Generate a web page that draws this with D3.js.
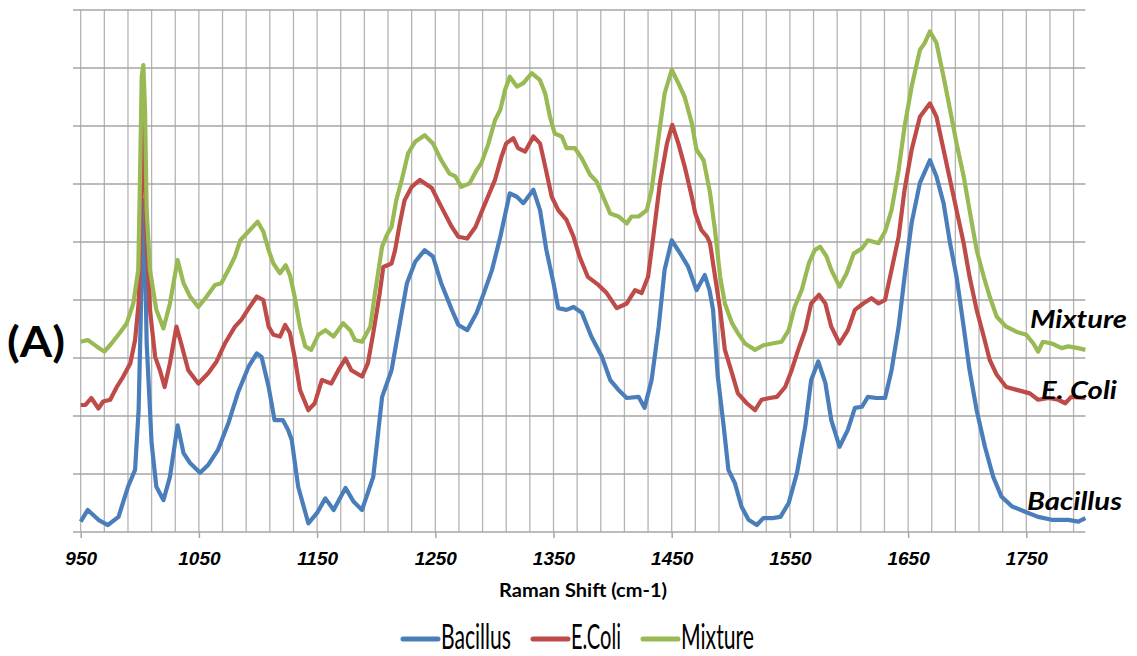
<!DOCTYPE html>
<html>
<head>
<meta charset="utf-8">
<script src="https://cdn.jsdelivr.net/npm/d3@7"></script>
<style>
  body { margin: 0; background: #fff; }
  svg { display: block; font-family: Lato, "Open Sans", sans-serif; }
</style>
</head>
<body>
<script>
// Raman spectra (x = Raman shift cm-1, y = intensity in gridline units)
const bacillus = [
  [950,0.18],[956,0.38],[965,0.21],[973,0.12],[982,0.26],[990,0.78],[996,1.07],[999,2.1],
  [1001.6,4.4],[1003,5.72],[1004.4,4.86],[1005.8,3.26],[1010,1.53],[1014,0.78],[1020,0.55],
  [1025.5,0.95],[1032,1.84],[1037,1.36],[1042.5,1.19],[1051,1.02],[1058,1.16],[1066,1.41],
  [1075,1.88],[1083,2.4],[1092,2.85],[1099,3.08],[1103,3.02],[1109,2.5],[1114,1.93],[1121,1.93],
  [1125.5,1.76],[1128.5,1.59],[1134,0.78],[1142.6,0.15],[1150,0.33],[1157,0.58],[1164,0.38],
  [1174,0.76],[1181,0.52],[1188,0.38],[1197.5,0.95],[1205,2.33],[1213,2.79],[1220,3.6],
  [1226,4.29],[1233,4.66],[1241,4.86],[1248,4.75],[1255,4.29],[1264,3.83],[1269.5,3.57],
  [1277,3.48],[1285,3.78],[1292,4.17],[1298,4.52],[1305,5.09],[1313,5.84],[1319,5.78],
  [1324.5,5.67],[1333,5.9],[1338.6,5.55],[1344,4.86],[1350,4.29],[1354,3.86],[1361,3.83],
  [1367,3.88],[1374,3.78],[1382,3.37],[1391,3.02],[1398,2.62],[1405,2.45],[1412,2.31],
  [1422,2.33],[1427,2.14],[1433,2.62],[1439,3.54],[1444,4.52],[1450,5.03],[1457,4.81],
  [1464,4.57],[1471,4.17],[1478,4.43],[1482,4.17],[1485,3.83],[1489,2.68],[1494,1.82],
  [1498,1.07],[1503.5,0.84],[1509,0.44],[1515,0.21],[1522,0.12],[1527.5,0.24],[1535,0.24],
  [1542,0.26],[1549,0.5],[1556,1.02],[1563,1.82],[1568,2.62],[1574,2.94],[1580,2.57],
  [1585,1.93],[1592,1.47],[1599,1.76],[1605,2.14],[1611,2.16],[1616,2.33],[1623,2.31],
  [1630.5,2.31],[1636,2.79],[1642,3.54],[1647,4.4],[1653,5.33],[1660,6.02],[1668.5,6.41],
  [1674,6.13],[1680,5.67],[1685.5,4.98],[1691,4.4],[1697,3.54],[1702,2.79],[1708,2.1],
  [1715,1.47],[1722,0.95],[1729,0.61],[1738,0.44],[1749,0.35],[1760,0.26],[1771.5,0.21],
  [1785.5,0.21],[1794,0.18],[1800,0.24]
];

const ecoli = [
  [950,2.19],[954,2.19],[959,2.31],[965,2.13],[969,2.25],[975,2.28],[980.5,2.5],[986,2.68],
  [992,2.91],[996,3.31],[999,3.94],[1001,5.55],[1002.4,7.1],[1004.4,6.24],[1006,4.98],
  [1008.6,3.83],[1013,3.02],[1017,2.79],[1021,2.5],[1025.5,2.91],[1031,3.54],[1035,3.25],
  [1041,2.79],[1049.5,2.56],[1058,2.74],[1065,2.94],[1072,3.25],[1080.5,3.54],[1086,3.66],
  [1093,3.88],[1099,4.06],[1104.5,4.0],[1109,3.54],[1113,3.4],[1118.6,3.37],[1123,3.57],
  [1127,3.43],[1131,3.02],[1135.5,2.45],[1142.6,2.1],[1148,2.22],[1154,2.62],[1162,2.56],
  [1168,2.79],[1174,2.99],[1179,2.79],[1188,2.68],[1193,2.91],[1197.5,3.43],[1203,4.12],
  [1206,4.57],[1213,4.63],[1216,4.86],[1220,5.32],[1224,5.72],[1230,5.95],[1237,6.07],
  [1247,5.93],[1255,5.61],[1264,5.26],[1269.5,5.09],[1277,5.06],[1284,5.26],[1291,5.61],
  [1298,5.95],[1300.5,6.07],[1306,6.47],[1310,6.7],[1316,6.79],[1320,6.62],[1326,6.56],
  [1333,6.82],[1338.6,6.7],[1343,6.3],[1348.5,5.78],[1354,5.55],[1361,5.38],[1367,5.09],
  [1372,4.75],[1379,4.4],[1388,4.26],[1395,4.12],[1403.5,3.86],[1412,3.94],[1419,4.17],
  [1424.6,4.12],[1430,4.4],[1434.4,5.09],[1440,6.01],[1446,6.7],[1450.5,7.02],[1455.6,6.7],
  [1461,6.3],[1467,5.78],[1470,5.49],[1475,5.21],[1480,5.09],[1482.4,4.98],[1485,4.63],
  [1491,3.83],[1495,3.14],[1501,2.74],[1506,2.39],[1513.5,2.22],[1520.5,2.1],[1526,2.28],
  [1533,2.31],[1539,2.33],[1546,2.5],[1551.5,2.79],[1557,3.14],[1563,3.48],[1568,3.94],
  [1574.6,4.09],[1580,3.94],[1585,3.54],[1592,3.25],[1599,3.48],[1605,3.83],[1612,3.94],
  [1619,4.03],[1625,3.94],[1630.5,4.0],[1636,4.52],[1642,5.09],[1647,5.9],[1653,6.59],
  [1660,7.16],[1668.5,7.39],[1674,7.16],[1680,6.59],[1685.5,6.07],[1691,5.55],[1697,4.98],
  [1702,4.4],[1708,3.83],[1714,3.37],[1719,2.97],[1725,2.71],[1733,2.5],[1742,2.45],
  [1753,2.39],[1760,2.28],[1769,2.31],[1777,2.28],[1783,2.22],[1788,2.33],[1800,2.31]
];

const mixture = [
  [950,3.28],[956,3.31],[963.5,3.2],[970,3.11],[976,3.25],[983,3.43],[989,3.6],[994.5,3.94],
  [998.7,4.52],[1000.2,6.13],[1001.6,7.85],[1003,8.05],[1004.4,7.28],[1005.8,5.55],
  [1008.6,4.52],[1014,3.83],[1020,3.51],[1025.5,3.94],[1032,4.69],[1037,4.29],[1042.5,4.06],
  [1049.5,3.88],[1056.6,4.06],[1063.6,4.26],[1069,4.29],[1075,4.52],[1080.5,4.75],[1085,5.03],
  [1092,5.18],[1099.7,5.35],[1104.5,5.18],[1109,4.86],[1113,4.63],[1118.6,4.46],[1123.4,4.6],
  [1127,4.43],[1131,4.06],[1135.5,3.54],[1140,3.2],[1145,3.14],[1151,3.4],[1157,3.48],
  [1164,3.37],[1172,3.6],[1178,3.48],[1182,3.31],[1188,3.28],[1195,3.54],[1199,4.12],
  [1205,4.92],[1209,5.12],[1213,5.26],[1217,5.72],[1221.6,6.07],[1227,6.53],[1233,6.73],
  [1241,6.84],[1248,6.7],[1255,6.41],[1262,6.18],[1267,6.13],[1272,5.95],[1279,6.01],
  [1285,6.24],[1289,6.36],[1295,6.7],[1300.5,7.1],[1305,7.28],[1309,7.62],[1313,7.85],
  [1319,7.68],[1324.5,7.74],[1331.6,7.91],[1338.6,7.79],[1343,7.56],[1347,7.16],[1351,6.87],
  [1357,6.82],[1361,6.62],[1368,6.62],[1374,6.44],[1381,6.16],[1386.5,6.04],[1392,5.78],
  [1398,5.49],[1405,5.44],[1412,5.32],[1416,5.44],[1422,5.44],[1429,5.55],[1433,5.9],
  [1439,6.82],[1444,7.56],[1450,7.97],[1455.6,7.74],[1461,7.5],[1467,7.05],[1471,6.59],
  [1477,6.41],[1482.4,5.85],[1486.6,5.21],[1491,4.4],[1495,3.94],[1501,3.6],[1506,3.43],
  [1512,3.25],[1520.5,3.14],[1527.5,3.22],[1535,3.25],[1543,3.28],[1549,3.48],[1554,3.88],
  [1560,4.17],[1566,4.63],[1571,4.86],[1575.5,4.92],[1581,4.75],[1585,4.52],[1592,4.23],
  [1598,4.46],[1604,4.8],[1611,4.89],[1616,5.03],[1625,4.98],[1630.5,5.18],[1636,5.55],
  [1642,6.24],[1647,6.99],[1653,7.68],[1660,8.31],[1664,8.43],[1668.5,8.63],[1674,8.43],
  [1680,7.85],[1685.5,7.28],[1691,6.7],[1697,6.13],[1702,5.55],[1708,4.86],[1714,4.4],
  [1719,4.06],[1725,3.71],[1733,3.54],[1742,3.45],[1750,3.4],[1756,3.25],[1760,3.11],
  [1764,3.28],[1771.5,3.25],[1780,3.17],[1785.5,3.2],[1794,3.17],[1800,3.14]
];

const seriesNames = ["Bacillus", "E.Coli", "Mixture"];
const curveLabels = ["Bacillus", "E. Coli", "Mixture"];
const xTicks = [950, 1050, 1150, 1250, 1350, 1450, 1550, 1650, 1750];
const xGrid = d3.range(950, 1800, 20);
const yGrid = d3.range(0, 10, 1);

const width = 1137, height = 656;
const colors = ["#4a7ebb", "#be4b48", "#98b954"];
const allSeries = [bacillus, ecoli, mixture];

const svg = d3.select("body").append("svg")
  .attr("width", width)
  .attr("height", height);

const x = d3.scaleLinear().domain([950, 1800]).range([80.7, 1085.4]);
const y = d3.scaleLinear().domain([0, 9]).range([532, 10]);

// grid
svg.append("g").selectAll("line")
  .data(xGrid)
  .join("line")
  .attr("x1", d => x(d)).attr("x2", d => x(d))
  .attr("y1", y(9)).attr("y2", y(0))
  .attr("stroke", "#b4b4b4")
  .attr("stroke-width", 1.3);

svg.append("g").selectAll("line")
  .data(yGrid)
  .join("line")
  .attr("x1", 73).attr("x2", x(1800))
  .attr("y1", d => y(d)).attr("y2", d => y(d))
  .attr("stroke", "#a6a6a6")
  .attr("stroke-width", 1.5);

// x axis
const xAxis = d3.axisBottom(x)
  .tickValues(xTicks)
  .tickSize(6)
  .tickPadding(14)
  .tickFormat(d3.format("d"));

const gx = svg.append("g")
  .attr("transform", `translate(0,${y(0)})`)
  .call(xAxis);
gx.select(".domain").remove();
gx.selectAll(".tick line").attr("stroke", "#a6a6a6").attr("stroke-width", 1.5);
gx.selectAll(".tick text")
  .attr("fill", "#000")
  .style("font-size", "19px")
  .style("font-weight", "bold")
  .style("font-style", "italic");

svg.append("text")
  .attr("x", (x(950) + x(1800)) / 2)
  .attr("y", 597)
  .attr("text-anchor", "middle")
  .attr("textLength", 168)
  .attr("lengthAdjust", "spacingAndGlyphs")
  .style("font-size", "19px")
  .style("font-weight", "bold")
  .text("Raman Shift (cm-1)");

// spectra
const line = d3.line()
  .x(d => x(d[0]))
  .y(d => y(d[1]));

svg.append("g").selectAll("path")
  .data(allSeries)
  .join("path")
  .attr("d", line)
  .attr("fill", "none")
  .attr("stroke", (d, i) => colors[i])
  .attr("stroke-width", 4.2)
  .attr("stroke-linejoin", "round");

// panel label
svg.append("text")
  .attr("x", 7)
  .attr("y", 357)
  .attr("textLength", 58)
  .attr("lengthAdjust", "spacingAndGlyphs")
  .style("font-size", "42px")
  .style("font-weight", "bold")
  .text("(A)");

// labels at right end of each curve
const labelPos = [[1027, 510], [1041, 399], [1030, 328]];
const labelW = [95, 76, 97];
svg.append("g").selectAll("text")
  .data(curveLabels)
  .join("text")
  .attr("x", (d, i) => labelPos[i][0])
  .attr("y", (d, i) => labelPos[i][1])
  .attr("textLength", (d, i) => labelW[i])
  .attr("lengthAdjust", "spacingAndGlyphs")
  .style("font-size", "25px")
  .style("font-weight", "bold")
  .style("font-style", "italic")
  .text(d => d);

// legend
const legendX = [403, 533, 643];
const legendW = [70, 50, 73];
const legend = svg.append("g").attr("transform", "translate(0,639)");
legend.selectAll("line")
  .data(seriesNames)
  .join("line")
  .attr("x1", (d, i) => legendX[i])
  .attr("x2", (d, i) => legendX[i] + 35)
  .attr("y1", 0).attr("y2", 0)
  .attr("stroke", (d, i) => colors[i])
  .attr("stroke-width", 5)
  .attr("stroke-linecap", "round");
legend.selectAll("text")
  .data(seriesNames)
  .join("text")
  .attr("x", (d, i) => legendX[i] + 38)
  .attr("y", 10)
  .attr("textLength", (d, i) => legendW[i])
  .attr("lengthAdjust", "spacingAndGlyphs")
  .style("font-size", "34px")
  .text(d => d);
</script>
</body>
</html>
